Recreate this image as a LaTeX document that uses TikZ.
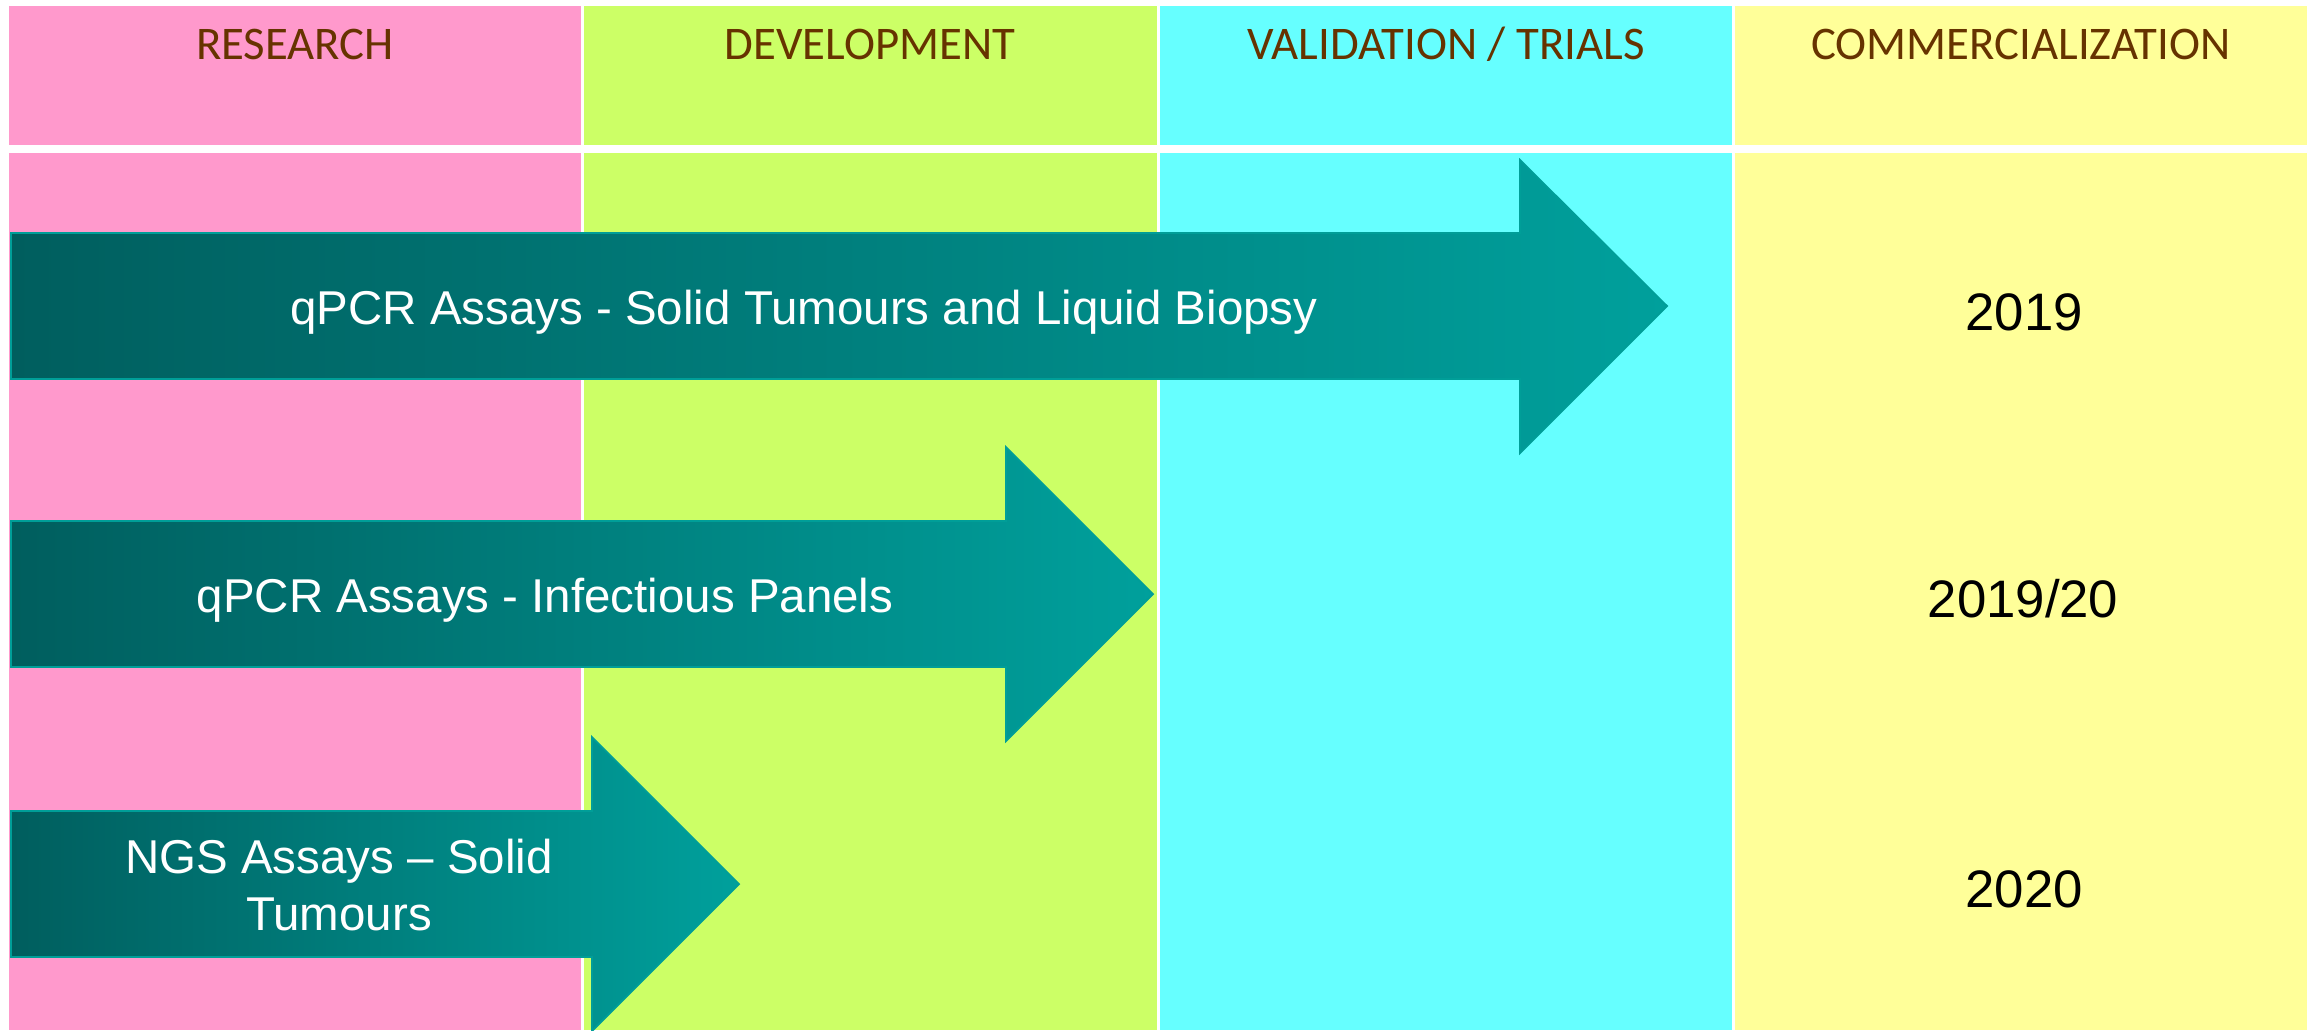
\documentclass[tikz,border=0pt]{standalone}
\usepackage{fontspec}
\setmainfont{Liberation Sans}
\newfontfamily\phasefont{Carlito}
\definecolor{researchpink}{RGB}{255,153,204}
\definecolor{devgreen}{RGB}{204,255,102}
\definecolor{trialcyan}{RGB}{102,255,255}
\definecolor{marketyellow}{RGB}{255,255,153}
\definecolor{phasebrown}{RGB}{102,51,0}
\definecolor{tealdark}{RGB}{0,94,94}
\definecolor{teallight}{RGB}{0,160,156}
\definecolor{tealedge}{RGB}{0,158,152}
\begin{document}
\begin{tikzpicture}[x=.01cm, y=-.01cm,
	phase/.style={font=\phasefont\fontsize{13.3}{16}\selectfont, text=phasebrown, anchor=base, inner sep=0pt},
	assay/.style={left color=tealdark, right color=teallight, draw=tealedge, line width=.5pt},
	assaytext/.style={font=\fontsize{13.5}{16.4}\selectfont, text=white, align=center, inner sep=0pt},
	year/.style={font=\fontsize{15}{18}\selectfont, anchor=base, inner sep=0pt}]
	\useasboundingbox (0,0) rectangle (2315,1030);
	\fill[white] (0,0) rectangle (2315,1030);
	% header row
	\fill[researchpink] (9,6)    rectangle (581,145);
	\fill[devgreen]     (584,6)  rectangle (1157,145);
	\fill[trialcyan]    (1160,6) rectangle (1732,145);
	\fill[marketyellow] (1735,6) rectangle (2307,145);
	\node[phase] (research)   at (295,59)  {RESEARCH};
	\node[phase] (development) at (870,59) {DEVELOPMENT};
	\node[phase] (validation) at (1446,59) {VALIDATION / TRIALS};
	\node[phase] (commercial) at (2021,59) {COMMERCIALIZATION};
	% body columns
	\fill[researchpink] (9,153)    rectangle (581,1030);
	\fill[devgreen]     (584,153)  rectangle (1157,1030);
	\fill[trialcyan]    (1160,153) rectangle (1732,1030);
	\fill[marketyellow] (1735,153) rectangle (2307,1030);
	% arrows
	\shade[assay] (11,233) -- (1520,233) -- (1520,160) -- (1667,306) -- (1520,453) -- (1520,379) -- (11,379) -- cycle;
	\shade[assay] (11,521) -- (1006,521) -- (1006,447) -- (1153,594) -- (1006,741) -- (1006,667) -- (11,667) -- cycle;
	\shade[assay] (11,811) -- (592,811)  -- (592,737)  -- (739,884)  -- (592,1031) -- (592,957)  -- (11,957) -- cycle;
	\node[assaytext, anchor=base] (qpcrsolid) at (804,324) {qPCR Assays - Solid Tumours and Liquid Biopsy};
	\node[assaytext, anchor=base] (qpcrinfect) at (545,612) {qPCR Assays - Infectious Panels};
	\node[assaytext] (ngssolid) at (339,885) {NGS Assays -- Solid\\Tumours};
	% years
	\node[year] (yearsolid)  at (2024,330) {2019};
	\node[year] (yearinfect) at (2023,617) {2019/20};
	\node[year] (yearngs)    at (2024,907) {2020};
\end{tikzpicture}
\end{document}
